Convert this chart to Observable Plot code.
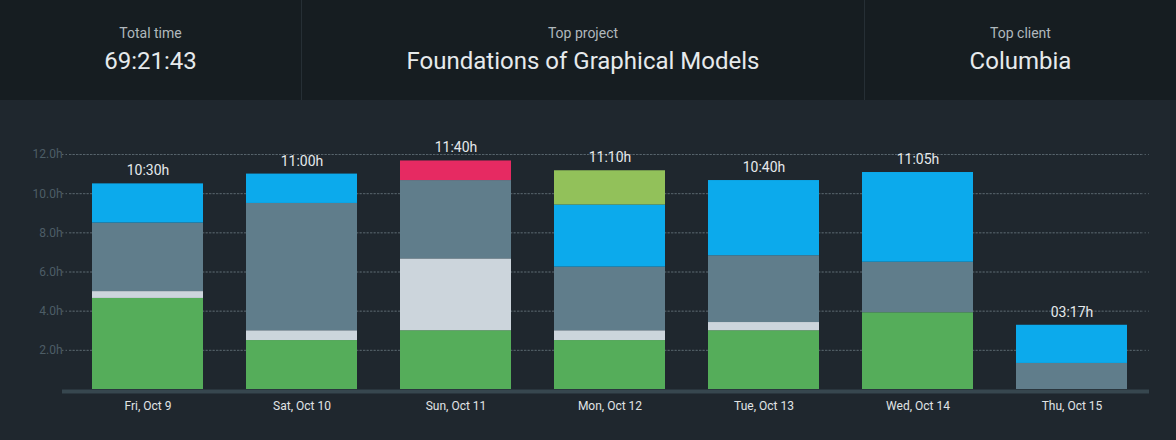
<!DOCTYPE html>
<html><head><meta charset="utf-8">
<script src="https://cdn.jsdelivr.net/npm/d3@7"></script>
<script src="https://cdn.jsdelivr.net/npm/@observablehq/plot@0.6"></script>
<style>
body{margin:0;background:#1f272e;font-family:Roboto,sans-serif;width:1176px;overflow:hidden}
.head{display:flex;height:100px;background:#161d21;color:#e6eaec}
.head div{display:flex;flex-direction:column;align-items:center;justify-content:center;border-right:1px solid #262f35}
.head div:last-child{border-right:none}
.head small{font-size:14px;color:#b0b8bd;margin-bottom:6px}
.head span{font-size:24px}
#chart svg{display:block}
</style></head><body>
<div class="head">
  <div style="width:301px"><small>Total time</small><span>69:21:43</span></div>
  <div style="width:562px"><small>Top project</small><span>Foundations of Graphical Models</span></div>
  <div style="flex:1"><small>Top client</small><span>Columbia</span></div>
</div>
<div id="chart"></div>
<script>
const days = ["Fri, Oct 9","Sat, Oct 10","Sun, Oct 11","Mon, Oct 12","Tue, Oct 13","Wed, Oct 14","Thu, Oct 15"];
const totalLabels = ["10:30h","11:00h","11:40h","11:10h","10:40h","11:05h","03:17h"];
const series = ["green","light","slate","blue","red","lime"];
const colors = ["#55ad5a","#ccd5dc","#607d8b","#0caaec","#e62a62","#92c15a"];
const green = [4.65, 2.5, 3.0, 2.5, 3.0, 3.92, 0];
const light = [0.35, 0.5, 3.67, 0.5, 0.42, 0, 0];
const slate = [3.5, 6.5, 4.0, 3.25, 3.41, 2.58, 1.33];
const blue = [2.0, 1.5, 0, 3.17, 3.84, 4.58, 1.95];
const red = [0, 0, 1.0, 0, 0, 0, 0];
const lime = [0, 0, 0, 1.75, 0, 0, 0];

const values = [green, light, slate, blue, red, lime];
const rows = [];
series.forEach((s, i) => days.forEach((d, j) => rows.push({day: d, series: s, hours: values[i][j]})));
const totals = days.map((d, j) => ({day: d, total: values.reduce((a, v) => a + v[j], 0), label: totalLabels[j]}));

const chart = Plot.plot({
  width: 1176, height: 340,
  marginTop: 54, marginBottom: 51, marginLeft: 70, marginRight: 27,
  style: {background: "transparent", color: "#4d5d66", fontSize: "12px", fontFamily: "Roboto, sans-serif"},
  x: {domain: days, paddingInner: 0.28, paddingOuter: 0.14, label: null, tickSize: 0, tickPadding: 12},
  y: {domain: [0, 12], ticks: [2,4,6,8,10,12], tickFormat: d => d.toFixed(1) + "h", label: null, tickSize: 0, tickPadding: 8},
  color: {domain: series, range: colors},
  marks: [
    Plot.gridY([2,4,6,8,10,12], {stroke: "#58656d", strokeOpacity: 0.8, strokeDasharray: "1.5,2"}),
    Plot.ruleY([2,4,6,8,10,12], {stroke: "#58656d", strokeDasharray: "1.5,2", dx: -8}),
    Plot.barY(rows, {x: "day", y: "hours", fill: "series", order: series}),
    Plot.ruleY([0], {stroke: "#37474f", strokeWidth: 4, insetLeft: -8, dy: 2}),
    Plot.text(totals, {x: "day", y: "total", text: "label", dy: -13, fill: "#e6eaec", fontSize: 14}),
    Plot.axisX({tickSize: 0, tickPadding: 12, fill: "#e0e4e6", fontSize: 12})
  ]
});
d3.select("#chart").append(() => chart);
</script>
</body></html>
